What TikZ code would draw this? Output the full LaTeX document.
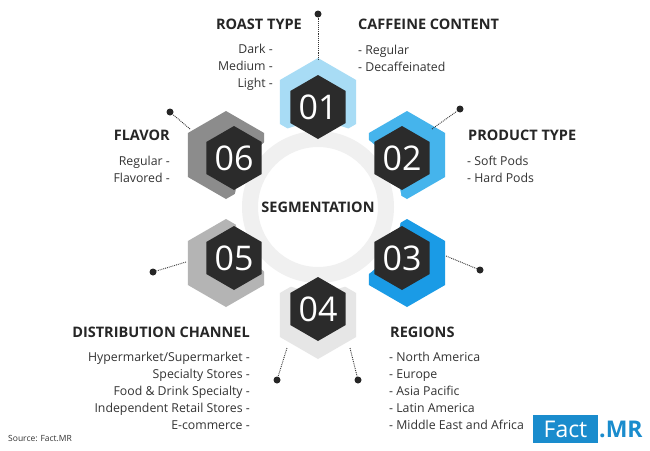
\documentclass[tikz,border=0pt]{standalone}
\usepackage{fontspec}
\setmainfont{Open Sans}
\begin{document}
\begin{tikzpicture}[x=1pt,y=-1pt,
  ttl/.style={font=\fontsize{14.5}{16}\selectfont\bfseries,text=black!85,inner sep=0},
  itm/.style={font=\fontsize{12.3}{17}\selectfont,text=black!80,inner sep=0},
  num/.style={font=\fontsize{34}{36}\selectfont,text=white,inner sep=0},
  con/.style={densely dotted,line width=0.9pt,black!80},
  dot/.style={circle,fill=black!85,inner sep=0,minimum size=7pt}]
\useasboundingbox (0,0) rectangle (650,450);
\fill[white] (0,0) rectangle (650,450);
\definecolor{dk}{HTML}{2B2B2B}
\newcommand\hexpath[3]{(#1,#2)+(90:#3)--+(150:#3)--+(210:#3)--+(270:#3)--+(330:#3)--+(30:#3)--cycle}
\fill[color={rgb,255:red,168;green,220;blue,245}] \hexpath{318}{102}{44};
\fill[color={rgb,255:red,69;green,180;blue,236}] \hexpath{407}{155}{44};
\fill[color={rgb,255:red,26;green,155;blue,230}] \hexpath{407}{263}{44};
\fill[color={rgb,255:red,230;green,230;blue,230}] \hexpath{318}{315}{44};
\fill[color={rgb,255:red,180;green,180;blue,180}] \hexpath{226}{263}{44};
\fill[color={rgb,255:red,140;green,140;blue,140}] \hexpath{226}{155}{44};
\coordinate (o) at (318,207);
\fill[white] (o) circle (84);
\fill[black!6,even odd rule] (o) circle (76) (o) circle (60);
\node[ttl] (seg) at (o) {SEGMENTATION};
\foreach \x/\y/\n/\m in {318/107/01/h1,402/158/02/h2,402/258/03/h3,318/309/04/h4,234/258/05/h5,234/158/06/h6}{
  \fill[dk] \hexpath{\x}{\y}{32};
  \node[num] (\m) at (\x,\y) {\n};
}
\coordinate (a1) at (318,60); \node[dot] (d1) at (318,14) {};
\coordinate (a2) at (432,129); \node[dot] (d2) at (460,109) {};
\coordinate (a3) at (446,256); \node[dot] (d3) at (480,270) {};
\coordinate (a4) at (287,348); \node[dot] (d4) at (277,380) {};
\coordinate (a5) at (350,348); \node[dot] (d5) at (358,380) {};
\coordinate (a6) at (190,129); \node[dot] (d6) at (170,112) {};
\coordinate (a7) at (186,262); \node[dot] (d7) at (153,272) {};
\foreach \a/\d in {a1/d1,a2/d2,a3/d3,a4/d4,a5/d5,a6/d6,a7/d7} \draw[con] (\a) -- (\d);
\node[ttl,anchor=east] (t1) at (302,24) {ROAST TYPE};
\node[itm,anchor=east,align=right] (i1) at (273,67) {Dark -\\Medium -\\Light -};
\node[ttl,anchor=west] (t2) at (358,24) {CAFFEINE CONTENT};
\node[itm,anchor=west,align=left] (i2) at (358,58.5) {- Regular\\- Decaffeinated};
\node[ttl,anchor=east] (t6) at (170,135) {FLAVOR};
\node[itm,anchor=east,align=right] (i6) at (170,169) {Regular -\\Flavored -};
\node[ttl,anchor=west] (t3) at (468,135) {PRODUCT TYPE};
\node[itm,anchor=west,align=left] (i3) at (467,169) {- Soft Pods\\- Hard Pods};
\node[ttl,anchor=east] (t5) at (250,332) {DISTRIBUTION CHANNEL};
\node[itm,anchor=east,align=right] (i5) at (250,391) {Hypermarket/Supermarket -\\Specialty Stores -\\Food \& Drink Specialty -\\Independent Retail Stores -\\E-commerce -};
\node[ttl,anchor=west] (t4) at (390,332) {REGIONS};
\node[itm,anchor=west,align=left] (i4) at (389,391) {- North America\\- Europe\\- Asia Pacific\\- Latin America\\- Middle East and Africa};
\node[itm,anchor=west,font=\fontsize{8.5}{10}\selectfont] (src) at (8,438) {Source: Fact.MR};
\fill[color={rgb,255:red,26;green,140;blue,205}] (533,415) rectangle (598,443);
\node[font=\fontsize{23}{24}\selectfont,text=white,inner sep=0] (lg1) at (565.5,429) {Fact};
\node[font=\fontsize{23}{24}\selectfont\bfseries,text={rgb,255:red,26;green,140;blue,205},inner sep=0,anchor=west] (lg2) at (599,429) {.MR};
\end{tikzpicture}
\end{document}
